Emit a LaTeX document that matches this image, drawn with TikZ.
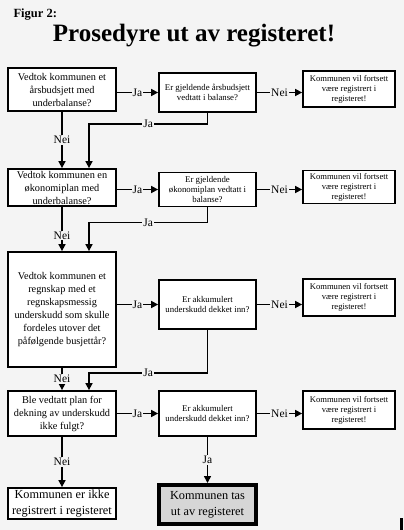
\documentclass[tikz,border=0pt]{standalone}
\usepackage{fontspec}
\setmainfont{Liberation Serif}
\usetikzlibrary{arrows.meta,calc}
\definecolor{bg}{RGB}{244,244,244}
\definecolor{fgray}{RGB}{214,214,214}
\begin{document}
\begin{tikzpicture}[x=1pt,y=-1pt,
  box/.style={draw,line width=1.8pt,fill=white,inner sep=0pt,align=center},
  abox/.style={box,font=\fontsize{10.3}{13}\selectfont,minimum width=108pt},
  bbox/.style={box,font=\fontsize{8.8}{10.3}\selectfont,minimum width=97pt},
  cbox/.style={box,font=\fontsize{8.6}{10}\selectfont,minimum width=92pt},
  endbox/.style={box,font=\fontsize{12.3}{16}\selectfont,minimum width=108pt},
  conn/.style={line width=1.6pt,-{Triangle[length=7pt,width=7pt]}},
  lbl/.style={fill=bg,inner sep=1pt,font=\fontsize{11.5}{11.5}\selectfont}]
\fill[bg] (0,0) rectangle (404,530);
\useasboundingbox (0,0) rectangle (404,530);

\node[anchor=base west,font=\bfseries\fontsize{12.5}{12.5}\selectfont] (fig) at (10,17) {Figur 2:};
\node[anchor=base,font=\bfseries\fontsize{25}{25}\selectfont] (title) at (194,41.5) {Prosedyre ut av registeret!};

% row 1
\node[abox,minimum height=43pt] (A1) at (62,89.5) {Vedtok kommunen et\\årsbudsjett med\\underbalanse?};
\node[bbox,minimum height=39pt] (B1) at (207.5,92.5) {Er gjeldende årsbudsjett\\vedtatt i balanse?};
\node[cbox,minimum height=36pt] (C1) at (349,89) {Kommunen vil fortsett\\være registrert i\\registeret!};
% row 2
\node[abox,minimum height=37pt] (A2) at (62,187.5) {Vedtok kommunen en\\økonomiplan med\\underbalanse?};
\node[bbox,minimum height=34pt] (B2) at (207.5,189.5) {Er gjeldende\\økonomiplan vedtatt i\\balanse?};
\node[cbox,minimum height=33pt] (C2) at (349,187) {Kommunen vil fortsett\\være registrert i\\registeret!};
% row 3
\node[abox,minimum height=115pt] (A3) at (62,309.5) {Vedtok kommunen et\\regnskap med et\\regnskapsmessig\\underskudd som skulle\\fordeles utover det\\påfølgende busjettår?};
\node[bbox,minimum height=49pt] (B3) at (207.5,304.5) {Er akkumulert\\underskudd dekket inn?};
\node[cbox,minimum height=37pt] (C3) at (349,297.5) {Kommunen vil fortsett\\være registrert i\\registeret!};
% row 4
\node[abox,minimum height=45pt] (A4) at (62,413.5) {Ble vedtatt plan for\\dekning av underskudd\\ikke fulgt?};
\node[bbox,minimum height=45pt] (B4) at (207.5,413.5) {Er akkumulert\\underskudd dekket inn?};
\node[cbox,minimum height=38pt] (C4) at (349,410) {Kommunen vil fortsett\\være registrert i\\registeret!};
% end boxes
\node[endbox,minimum height=31pt] (E) at (62,503.5) {Kommunen er ikke\\registrert i registeret};
\node[endbox,line width=4pt,fill=fgray,minimum width=97pt,minimum height=39pt] (F) at (207.5,504.5) {Kommunen tas\\ut av registeret};

% connectors row 1
\draw[conn] (A1.east |- B1.west) -- node[lbl]{Ja} (B1.west);
\draw[conn] (B1.east) -- node[lbl]{Nei} (B1.east -| C1.west);
\draw[conn] (B1.south) -- ++(0,11) -| node[lbl,pos=0.25]{Ja} ([xshift=27pt]A2.north);
\draw[conn] (A1.south) -- node[lbl]{Nei} (A2.north);
% row 2
\draw[conn] (A2.east |- B2.west) -- node[lbl]{Ja} (B2.west);
\draw[conn] (B2.east) -- node[lbl]{Nei} (B2.east -| C2.west);
\draw[conn] (B2.south) -- ++(0,15) -| node[lbl,pos=0.25]{Ja} ([xshift=27pt]A3.north);
\draw[conn] (A2.south) -- node[lbl,pos=0.65]{Nei} (A3.north);
% row 3
\draw[conn] (A3.east |- B3.west) -- node[lbl]{Ja} (B3.west);
\draw[conn] (B3.east) -- node[lbl]{Nei} (B3.east -| C3.west);
\draw[conn] (B3.south) -- ++(0,43) -| node[lbl,pos=0.25]{Ja} ([xshift=27pt]A4.north);
\draw[conn] (A3.south) -- node[lbl]{Nei} (A4.north);
% row 4
\draw[conn] (A4.east |- B4.west) -- node[lbl]{Ja} (B4.west);
\draw[conn] (B4.east) -- node[lbl]{Nei} (B4.east -| C4.west);
\draw[conn] (A4.south) -- node[lbl]{Nei} (E.north);
\draw[conn] (B4.south) -- node[lbl]{Ja} (F.north);

\fill (400,518) rectangle (403,530);
\end{tikzpicture}
\end{document}
